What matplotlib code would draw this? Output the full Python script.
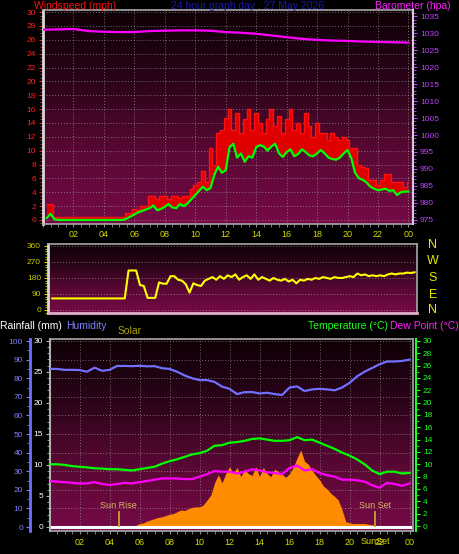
import matplotlib.pyplot as plt
import numpy as np
from matplotlib.colors import LinearSegmentedColormap
from matplotlib.ticker import MultipleLocator

plt.rcParams['font.family'] = ['Liberation Sans', 'DejaVu Sans']

# time bases (hours)
hours_q = np.arange(0.25, 24.01, 0.25)
hours_h = np.arange(0.0, 24.01, 0.5)
hours_1 = np.arange(0, 25)

# wind (mph), every 15 min
wind_avg = [0.3, 0.9, 0.1, 0.0,  0, 0, 0, 0,  0, 0, 0, 0,  0, 0, 0, 0,  0, 0, 0, 0,
            0.0, 0.2, 0.5, 0.8,  1.1, 1.3, 1.5, 1.7,  2.1, 1.4, 1.6, 1.9,  2.3, 1.8, 1.7, 2.3,
            2.0, 2.4, 3.0, 3.6,  4.2, 4.8, 4.3, 4.6,  6.5, 7.7, 6.8, 7.2,  10.5, 11.0, 9.0, 9.6,
            8.4, 9.2, 9.0, 10.5,  10.8, 10.6, 10.0, 10.6,  11.0, 9.6, 9.1, 9.8,  10.2, 9.2, 9.5, 10.2,
            9.8, 9.3, 9.2, 9.6,  10.1, 9.6, 9.0, 8.8,  8.7, 9.0, 9.6, 10.1,  8.9, 6.8, 6.0, 5.8,
            5.4, 4.8, 4.5, 4.3,  4.4, 4.5, 4.2, 4.3,  3.6, 4.0, 4.1, 4.1]
wind_gust = [2.3, 2.3, 0.4, 0.4,  0.4, 0.4, 0.4, 0.4,  0.4, 0.4, 0.4, 0.4,  0.4, 0.4, 0.4, 0.4,
             0.4, 0.4, 0.4, 0.4,  0.4, 1.0, 1.0, 1.6,  1.5, 2.0, 2.0, 3.4,  3.4, 3.0, 3.4, 3.4,
             3.0, 3.4, 3.4, 3.2,  3.4, 3.4, 4.5, 5.0,  5.5, 7.0, 5.5, 10.4,  8.0, 12.5, 13.0, 14.7,
             16.0, 13.0, 15.5, 12.5,  14.5, 16.0, 13.0, 15.5,  14.0, 12.5, 14.5, 16.0,
             13.5, 15.0, 12.5, 14.5,  16.0, 13.0, 14.0, 12.5,  15.5, 13.5, 12.0, 14.0,
             12.5, 12.5, 11.5, 12.5,  12.0, 11.5, 12.0, 11.5,  10.4, 10.4, 8.0, 7.7,
             7.5, 5.8, 5.8, 5.0,  5.8, 6.7, 6.7, 5.5,  5.5, 5.5, 4.8, 5.5]

# barometer (hPa), hourly
barometer = [1031.0, 1031.1, 1031.2, 1030.6, 1030.4, 1030.3, 1030.3, 1030.6, 1030.7,
             1030.8, 1030.8, 1030.7, 1030.3, 1030.1, 1029.8, 1029.3, 1028.8, 1028.3,
             1028.0, 1027.8, 1027.7, 1027.5, 1027.4, 1027.3, 1027.2]

# wind direction (deg), every 15 min
wind_dir = [65, 65, 65, 65,  65, 65, 65, 65,  65, 65, 65, 65,  65, 65, 65, 65,  65, 65, 65, 65,
            222, 222, 222, 140,  135, 68, 68, 68,  155, 148, 148, 190,  190, 170, 165, 145,
            98, 150, 140, 135,  165, 175, 185, 170,  190, 175, 195, 185,  200, 170, 185, 195,
            175, 200, 170, 185,  175, 165, 180, 170,  165, 175, 160, 170,  150, 170, 165, 175,
            170, 180, 175, 185,  180, 175, 185, 180,  180, 185, 190, 185,  205, 195, 200, 190,
            195, 190, 195, 190,  200, 205, 200, 205,  205, 210, 208, 212]

# humidity (%), temperature / dew point (C), every 30 min
humidity = [85, 85, 84.5, 84.5, 84.4, 83.5, 85.7, 84, 84.5, 86.6, 86.6, 86.5, 86.7, 86.4,
            86.5, 85.4, 85, 83.5, 81.5, 80, 79, 79, 78, 75.5, 74.3, 71.5, 72.5, 72.6, 71.8,
            72.2, 71.5, 71, 75, 75.6, 73.1, 74, 74.3, 74, 73.5, 75, 77.5, 81, 83.5, 85.5,
            87.5, 89, 89, 89.3, 90]
temperature = [10.0, 10.0, 9.9, 9.7, 9.6, 9.5, 9.35, 9.3, 9.2, 9.2, 9.1, 9.0, 9.2, 9.4,
               9.6, 10.1, 10.5, 10.8, 11.2, 11.6, 11.8, 12.2, 13.0, 13.1, 13.5, 13.6, 13.8,
               14.1, 14.2, 14.0, 13.8, 13.8, 13.9, 14.4, 13.9, 14.0, 13.5, 13.0, 12.5, 11.9,
               11.4, 10.8, 10.0, 9.0, 8.4, 8.8, 8.8, 8.5, 8.6]
dew_point = [7.3, 7.2, 7.1, 7.0, 6.9, 6.9, 7.1, 6.8, 6.65, 6.8, 7.0, 6.9, 7.1, 7.3, 7.5,
             7.7, 7.7, 7.7, 7.6, 7.6, 8.0, 8.4, 8.9, 8.8, 8.8, 8.5, 8.8, 9.2, 9.0, 8.7, 8.6,
             8.4, 9.4, 9.8, 9.0, 9.2, 8.6, 8.2, 8.0, 7.5, 7.5, 7.4, 7.2, 6.6, 6.2, 7.0, 6.8,
             6.5, 6.9]

# solar (W/m2), every 15 min
solar = [0, 0, 0, 0,  0, 0, 0, 0,  0, 0, 0, 0,  0, 0, 0, 0,  0, 0, 0, 0,
         0, 0, 4, 16,  20, 32, 40, 48,  56, 60, 68, 76,  80, 92, 104, 100,
         112, 120, 124, 124,  136, 168, 200, 280,  332, 280, 340, 384,  340, 380, 320, 368,
         340, 328, 384, 320,  380, 340, 320, 368,  352, 336, 316, 340,  380, 440, 492, 420,
         400, 360, 328, 300,  260, 240, 212, 192,  168, 104, 28, 20,  16, 16, 16, 16,
         12, 8, 0, 0,  0, 0, 0, 0,  0, 0, 0, 0]

# rainfall (mm), hourly
rainfall = [0.0, 0.0, 0.0, 0.0, 0.0, 0.0, 0.0, 0.0, 0.0, 0.0, 0.0, 0.0, 0.0,
            0.0, 0.0, 0.0, 0.0, 0.0, 0.0, 0.0, 0.0, 0.0, 0.0, 0.0, 0.0]

hour_ticks = np.arange(2, 25, 2)
hour_labels = ['02', '04', '06', '08', '10', '12', '14', '16', '18', '20', '22', '00']
sun_rise = 4.6
sun_set = 21.7

W, H = 460, 554
fig = plt.figure(figsize=(W / 100, H / 100), dpi=100, facecolor='black')


def box(l, t, r, b):
    return [l / W, 1 - b / H, (r - l) / W, (b - t) / H]


def ftext(x, y, s, **kw):
    fig.text(x / W, 1 - y / H, s, va='center', **kw)


bg = LinearSegmentedColormap.from_list('bg', ['#0e0006', '#2c041a', '#5a0834', '#760a46'])
grad = np.linspace(0, 1, 256).reshape(-1, 1)
dots = (0, (1, 2))


def panel(rect):
    ax = fig.add_axes(rect)
    ax.set_facecolor('black')
    ax.imshow(grad, extent=(0, 1, 0, 1), transform=ax.transAxes, aspect='auto',
              cmap=bg, zorder=0)
    for s in ax.spines.values():
        s.set_color('#a8a8a8')
        s.set_linewidth(1.2)
    ax.spines['left'].set_color('#d8d8d8')
    ax.spines['left'].set_linewidth(2)
    return ax


# ---------------- top: wind speed + barometer ----------------
ax1 = panel(box(43, 10, 413, 224))
ax1.fill_between(hours_q, wind_avg, wind_gust, step='mid', color='#e00000', lw=0, zorder=2)
ax1.step(hours_q, wind_gust, where='mid', color='#ff1010', lw=1.0, zorder=2)
ax1.plot(hours_q, wind_avg, color='#00ff00', lw=1.6, zorder=3)
ax1.set_xlim(0, 24.3)
ax1.set_ylim(-0.58, 30.3)
ax1.set_yticks(np.arange(0, 31, 2))
ax1.yaxis.set_minor_locator(MultipleLocator(0.5))
ax1.set_xticks(hour_ticks)
ax1.set_xticklabels(hour_labels)
ax1.xaxis.set_minor_locator(MultipleLocator(0.5))
ax1.tick_params(axis='y', which='both', colors='#ff2020', labelsize=6, length=3, pad=2)
ax1.tick_params(axis='y', which='minor', length=2)
ax1.tick_params(axis='x', which='both', colors='#909090', labelcolor='#d8d800', labelsize=6.5,
                length=2, pad=2)
ax1.grid(True, which='major', color='#b0b0b0', ls=dots, lw=0.7, alpha=0.6)

ax1b = ax1.twinx()
ax1b.plot(hours_1, barometer, color='#ff00ff', lw=1.6)
ax1b.set_ylim(973.8, 1036.8)
ax1b.set_yticks(np.arange(975, 1036, 5))
ax1b.yaxis.set_minor_locator(MultipleLocator(1))
ax1b.tick_params(axis='y', which='both', colors='#c040ff', labelsize=6, length=3, pad=2)
ax1b.tick_params(axis='y', which='minor', length=2)
ax1b.spines['right'].set_color('#d0d0d0')
ax1b.spines['right'].set_linewidth(1.5)
for s in ['left', 'top', 'bottom']:
    ax1b.spines[s].set_visible(False)

ftext(34, 6, 'Windspeed (mph)', color='#ff1010', fontsize=7.5)
ftext(248, 6, '24 hour graph day : 27 May 2026', color='#1818b0', fontsize=7.5, ha='center')
ftext(451, 6, 'Barometer (hpa)', color='#ff20ff', fontsize=7.5, ha='right')

# ---------------- middle: wind direction ----------------
ax2 = panel(box(48, 244, 417, 313))
ax2.plot(hours_q, wind_dir, color='#ffff00', lw=1.5, zorder=3)
ax2.set_xlim(-0.03, 24.16)
ax2.set_ylim(-17, 371)
ax2.set_yticks([0, 90, 180, 270, 360])
ax2.yaxis.set_minor_locator(MultipleLocator(15))
ax2.set_xticks([])
ax2.tick_params(axis='y', which='both', colors='#c8c800', labelsize=6, length=3, pad=2)
ax2.tick_params(axis='y', which='minor', length=2)
ax2.grid(True, axis='y', which='major', color='#b0b0b0', ls=dots, lw=0.7, alpha=0.6)
ax2.spines['bottom'].set_color('#e0b0c8')
ax2.spines['bottom'].set_linewidth(2)
for lab, y in zip(['N', 'W', 'S', 'E', 'N'], [245, 261, 278, 295, 310]):
    ftext(433, y, lab, color='#e8e800', fontsize=9, ha='center')

# ---------------- bottom: humidity, rain, temperature, solar ----------------
ax3 = panel(box(50, 339, 413, 531))
ax3.set_xlim(0.03, 24.23)
ax3.set_ylim(-2.15, 101.1)
ax3.set_yticks(np.arange(0, 101, 10))
ax3.yaxis.set_minor_locator(MultipleLocator(5))
ax3.set_xticks(hour_ticks)
ax3.set_xticklabels(hour_labels)
ax3.xaxis.set_minor_locator(MultipleLocator(0.5))
ax3.grid(True, which='major', color='#b0b0b0', ls=dots, lw=0.7, alpha=0.6)
ax3.spines['left'].set_position(('outward', 14.4))
ax3.spines['left'].set_color('#7070ff')
ax3.spines['left'].set_linewidth(2)
ax3.tick_params(axis='y', which='both', colors='#8080ff', labelsize=6, length=3, pad=2)
ax3.tick_params(axis='y', which='minor', length=2)
ax3.tick_params(axis='x', which='both', colors='#909090', labelcolor='#d8d800', labelsize=6.5,
                length=2, pad=3)

temp_lim = (-0.81, 30.3)
ax3s = ax3.twinx()
ax3s.fill_between(hours_q, 0, solar, color='#ff8c00', lw=0)
ax3s.set_ylim(temp_lim[0] * 40, temp_lim[1] * 40)
ax3s.axis('off')

ax3r = ax3.twinx()
ax3r.plot(hours_1, rainfall, color='white', lw=2.2)
ax3r.set_ylim(-0.65, 30.3)
ax3r.yaxis.tick_left()
ax3r.set_yticks(np.arange(0, 31, 5))
ax3r.yaxis.set_minor_locator(MultipleLocator(1))
ax3r.tick_params(axis='y', which='both', colors='#b0b0b0', labelcolor='white', labelsize=6,
                 length=3, pad=2)
ax3r.tick_params(axis='y', which='minor', length=2)
for s in ['right', 'top', 'bottom']:
    ax3r.spines[s].set_visible(False)
ax3r.spines['left'].set_color('#b0b0b0')
ax3r.spines['left'].set_linewidth(1.5)

ax3t = ax3.twinx()
ax3t.plot(hours_h, temperature, color='#00ff00', lw=1.6)
ax3t.plot(hours_h, dew_point, color='#ff00ff', lw=1.6)
ax3t.set_ylim(*temp_lim)
ax3t.set_yticks(np.arange(0, 31, 2))
ax3t.yaxis.set_minor_locator(MultipleLocator(1))
ax3t.spines['right'].set_position(('outward', 2.2))
ax3t.spines['right'].set_color('#20ff20')
ax3t.spines['right'].set_linewidth(1.5)
for s in ['left', 'top', 'bottom']:
    ax3t.spines[s].set_visible(False)
ax3t.tick_params(axis='y', which='both', colors='#20ff20', labelsize=6, length=3, pad=2)
ax3t.tick_params(axis='y', which='minor', length=2)

# humidity drawn on top of everything
ax3h = ax3.twinx()
ax3h.plot(hours_h, humidity, color='#7070ff', lw=1.6)
ax3h.set_ylim(-2.15, 101.1)
ax3h.axis('off')

# sun rise / sun set markers
for hx, lab in [(sun_rise, 'Sun Rise'), (sun_set, 'Sun Set')]:
    ax3t.plot([hx, hx], [0, 2.3], color='#c8a030', lw=1.3)
    ax3t.text(hx, 3.4, lab, color='#d8b860', fontsize=6.5, ha='center', va='center')
ax3t.text(sun_set, -2.45, 'SunSet', color='#d8d800', fontsize=6.5, ha='center', va='center')

ftext(0, 326, 'Rainfall (mm)', color='white', fontsize=7.5)
ftext(66, 326, 'Humidity', color='#8080ff', fontsize=7.5)
ftext(118, 331, 'Solar', color='#b0a000', fontsize=7.5)
ftext(308, 326, 'Temperature (\u00b0C)', color='#20ff20', fontsize=7.5)
ftext(459, 326, 'Dew Point (\u00b0C)', color='#ff20ff', fontsize=7.5, ha='right')

fig.savefig('out.png', dpi=100, facecolor='black')
